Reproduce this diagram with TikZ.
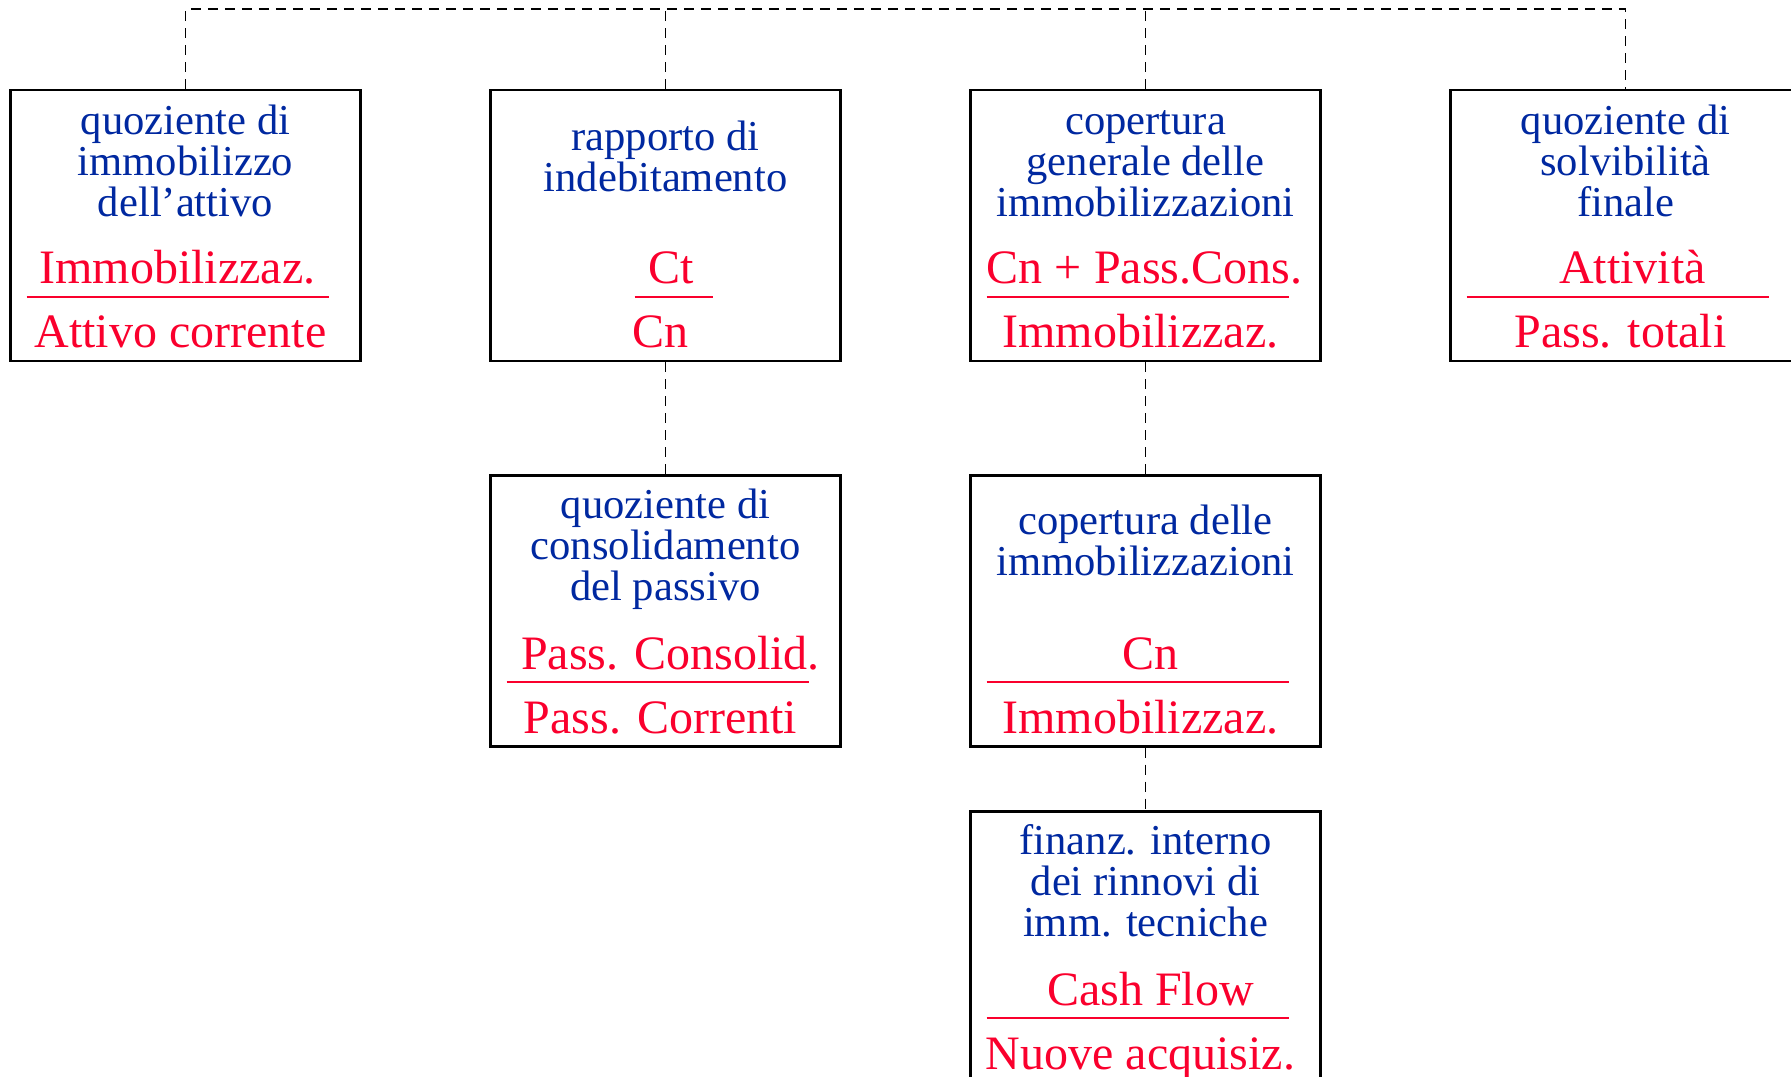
\documentclass[tikz,border=0pt]{standalone}
\usepackage{fontspec}
\setmainfont{Liberation Serif}
\usetikzlibrary{
  matrix,
  positioning
}
\definecolor{titleblue}{RGB}{0,40,160}
\definecolor{ratiored}{RGB}{250,0,45}

\begin{document}
\begin{tikzpicture}[
      ratio/.style={
         rectangle,
         minimum width=175pt,
         minimum height=135.5pt,
         line width=1.25pt,
         draw=black
      },
      title/.style={
         align=center,
         text=titleblue,
         font=\fontsize{21.3}{20.5}\selectfont
      },
      term/.style={
         anchor=base,
         text=ratiored,
         font=\fontsize{24}{28}\selectfont
      },
      bar/.style={draw=ratiored,line width=1.1pt},
      link/.style={dash pattern=on 5pt off 3.5pt,line width=0.9pt}
    ]
    \useasboundingbox (0,0) rectangle (895.5pt,-538pt);
    \matrix[column sep=63.75pt, row sep=0pt, matrix anchor=q1.center] at (92.75pt,-112.75pt) {
 \node (q1) [ratio] {}; & \node (q2) [ratio] {}; & \node (q3) [ratio] {}; & \node (q4) [ratio] {}; \\[55.9pt]
 & \node (q5) [ratio] {}; & \node (q6) [ratio] {}; & \\[31.3pt]
 & & \node (q7) [ratio] {}; & \\
    };
    % titles
    \node (t1) [title] at ([yshift=-36pt]q1.north) {quoziente di\\immobilizzo\\dell'attivo};
    \node (t2) [title] at ([yshift=-33.6pt]q2.north) {rapporto di\\indebitamento};
    \node (t3) [title] at ([yshift=-37.4pt]q3.north) {copertura\\generale delle\\immobilizzazioni};
    \node (t4) [title] at ([yshift=-36pt]q4.north) {quoziente di\\solvibilità\\finale};
    \node (t5) [title] at ([yshift=-37.7pt]q5.north) {quoziente di\\consolidamento\\del passivo};
    \node (t6) [title] at ([yshift=-33.1pt]q6.north) {copertura delle\\immobilizzazioni};
    \node (t7) [title] at ([yshift=-35.4pt]q7.north) {finanz. interno\\dei rinnovi di\\imm. tecniche};
    % fractions
    \foreach \q/\nm/\dn/\dx/\rx/\rw in {
        q1/Immobilizzaz./Attivo corrente/-4pt/-79.5pt/151pt,
        q2/Ct/Cn/3pt/-15.5pt/39pt,
        q3/Cn + Pass.Cons./Immobilizzaz./-0.5pt/-79.5pt/151pt,
        q4/Attività/Pass. totali/3.5pt/-79.5pt/151pt,
        q5/Pass. Consolid./Pass. Correnti/2.5pt/-79.5pt/151pt,
        q6/Cn/Immobilizzaz./2.5pt/-79.5pt/151pt,
        q7/Cash Flow/Nuove acquisiz./2.5pt/-79.5pt/151pt} {
      \node [term] at ([xshift=\dx,yshift=-97.5pt]\q.north) {\nm};
      \draw [bar] ([xshift=\rx,yshift=-104pt]\q.north) -- ++(\rw,0);
      \node [term] at ([xshift=-2.5pt,yshift=-129.5pt]\q.north) {\dn};
    }
    % dashed links
    \coordinate (bus) at (0,-4.5pt);
    \draw [link] (q1.north) -- (q1.north |- bus) -| (q4.north);
    \draw [link] (q2.north) -- (q2.north |- bus);
    \draw [link] (q3.north) -- (q3.north |- bus);
    \draw [link] (q2.south) -- (q5.north);
    \draw [link] (q3.south) -- (q6.north);
    \draw [link] (q6.south) -- (q7.north);
\end{tikzpicture}
\end{document}
